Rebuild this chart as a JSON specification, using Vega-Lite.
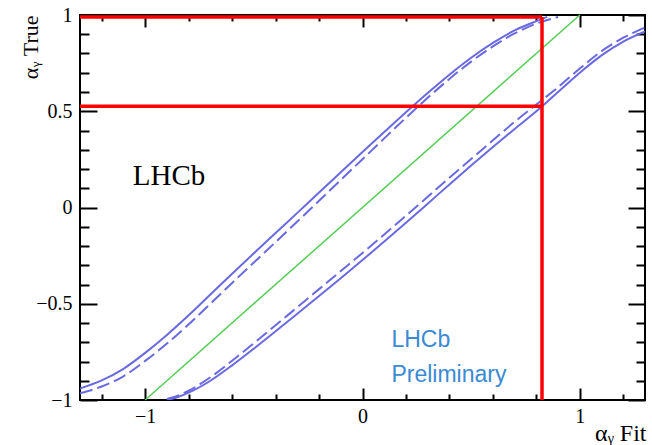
{
  "$schema": "https://vega.github.io/schema/vega-lite/v6.json",
  "width": 565,
  "height": 385,
  "autosize": {"type": "none"},
  "padding": {"left": 80, "top": 15, "right": 7, "bottom": 45},
  "background": "white",
  "config": {
    "view": {"stroke": "black", "strokeWidth": 2},
    "axis": {"grid": false, "domain": false, "tickColor": "black", "tickWidth": 2, "labelFont": "Liberation Serif", "labelFontSize": 20, "labelColor": "black", "titleFont": "Liberation Serif", "titleFontSize": 22, "titleFontWeight": "normal", "titleColor": "black"}
  },
  "datasets": {
    "diag": [{"x": -1, "y": -1}, {"x": 1, "y": 1}],
    "red": [
      {"x": -1.3, "x2": 0.826, "y": 0.99, "y2": 0.99},
      {"x": -1.3, "x2": 0.826, "y": 0.526, "y2": 0.526},
      {"x": 0.826, "x2": 0.826, "y": -1, "y2": 0.99}
    ],
    "us": [{"x": -1.3, "y": -0.94}, {"x": -1.2, "y": -0.898}, {"x": -1.1, "y": -0.838}, {"x": -1.0, "y": -0.755}, {"x": -0.9, "y": -0.662}, {"x": -0.8, "y": -0.56}, {"x": -0.7, "y": -0.452}, {"x": -0.6, "y": -0.344}, {"x": -0.5, "y": -0.238}, {"x": -0.4, "y": -0.133}, {"x": -0.3, "y": -0.028}, {"x": -0.2, "y": 0.078}, {"x": -0.1, "y": 0.183}, {"x": 0.0, "y": 0.288}, {"x": 0.1, "y": 0.392}, {"x": 0.2, "y": 0.495}, {"x": 0.3, "y": 0.595}, {"x": 0.4, "y": 0.69}, {"x": 0.5, "y": 0.778}, {"x": 0.6, "y": 0.855}, {"x": 0.7, "y": 0.92}, {"x": 0.8, "y": 0.968}, {"x": 0.85, "y": 0.99}],
    "ud": [{"x": -1.3, "y": -0.965}, {"x": -1.2, "y": -0.93}, {"x": -1.1, "y": -0.877}, {"x": -1.0, "y": -0.797}, {"x": -0.9, "y": -0.707}, {"x": -0.8, "y": -0.607}, {"x": -0.7, "y": -0.5}, {"x": -0.6, "y": -0.392}, {"x": -0.5, "y": -0.286}, {"x": -0.4, "y": -0.18}, {"x": -0.3, "y": -0.073}, {"x": -0.2, "y": 0.035}, {"x": -0.1, "y": 0.143}, {"x": 0.0, "y": 0.251}, {"x": 0.1, "y": 0.359}, {"x": 0.2, "y": 0.466}, {"x": 0.3, "y": 0.57}, {"x": 0.4, "y": 0.668}, {"x": 0.5, "y": 0.758}, {"x": 0.6, "y": 0.837}, {"x": 0.7, "y": 0.904}, {"x": 0.8, "y": 0.955}, {"x": 0.9, "y": 0.99}],
    "ls": [{"x": -0.9, "y": -1.0}, {"x": -0.85, "y": -0.985}, {"x": -0.8, "y": -0.962}, {"x": -0.7, "y": -0.9}, {"x": -0.6, "y": -0.82}, {"x": -0.5, "y": -0.733}, {"x": -0.4, "y": -0.643}, {"x": -0.3, "y": -0.552}, {"x": -0.2, "y": -0.46}, {"x": -0.1, "y": -0.367}, {"x": 0.0, "y": -0.273}, {"x": 0.1, "y": -0.177}, {"x": 0.2, "y": -0.079}, {"x": 0.3, "y": 0.02}, {"x": 0.4, "y": 0.12}, {"x": 0.5, "y": 0.218}, {"x": 0.6, "y": 0.314}, {"x": 0.7, "y": 0.408}, {"x": 0.8, "y": 0.5}, {"x": 0.9, "y": 0.6}, {"x": 1.0, "y": 0.7}, {"x": 1.1, "y": 0.79}, {"x": 1.2, "y": 0.862}, {"x": 1.3, "y": 0.915}],
    "ld": [{"x": -0.9, "y": -0.995}, {"x": -0.85, "y": -0.978}, {"x": -0.8, "y": -0.952}, {"x": -0.7, "y": -0.882}, {"x": -0.6, "y": -0.796}, {"x": -0.5, "y": -0.705}, {"x": -0.4, "y": -0.612}, {"x": -0.3, "y": -0.518}, {"x": -0.2, "y": -0.424}, {"x": -0.1, "y": -0.33}, {"x": 0.0, "y": -0.236}, {"x": 0.1, "y": -0.14}, {"x": 0.2, "y": -0.043}, {"x": 0.3, "y": 0.056}, {"x": 0.4, "y": 0.155}, {"x": 0.5, "y": 0.252}, {"x": 0.6, "y": 0.349}, {"x": 0.7, "y": 0.445}, {"x": 0.8, "y": 0.535}, {"x": 0.9, "y": 0.625}, {"x": 1.0, "y": 0.722}, {"x": 1.1, "y": 0.812}, {"x": 1.2, "y": 0.882}, {"x": 1.3, "y": 0.935}],
    "txt1": [{"x": -1.057, "y": 0.118, "t": "LHCb"}],
    "txt2": [{"x": 0.133, "y": -0.723, "t": "LHCb"}, {"x": 0.133, "y": -0.905, "t": "Preliminary"}]
  },
  "resolve": {"axis": {"x": "independent", "y": "independent"}},
  "layer": [
    {
      "data": {"name": "diag"},
      "mark": {"type": "line", "color": "#55cc55", "strokeWidth": 1.5},
      "encoding": {
        "x": {"field": "x", "type": "quantitative", "scale": {"domain": [-1.3, 1.3], "nice": false, "zero": false},
              "axis": {"orient": "bottom", "values": [-1, 0, 1], "format": "~g", "ticks": false, "labelPadding": 6, "title": "αᵧ Fit", "titleFontSize": 24, "titleX": 566, "titleY": 40, "titleAlign": "right", "titleBaseline": "alphabetic", "titleAngle": 0}},
        "y": {"field": "y", "type": "quantitative", "scale": {"domain": [-1, 1], "nice": false, "zero": false},
              "axis": {"orient": "left", "values": [-1, -0.5, 0, 0.5, 1], "format": "~g", "ticks": false, "labelPadding": 8, "title": "αᵧ True", "titleX": -43, "titleY": 0, "titleAngle": -90, "titleAlign": "right", "titleBaseline": "alphabetic"}}
      }
    },
    {
      "data": {"name": "us"},
      "mark": {"type": "line", "color": "#6a6ae0", "strokeWidth": 2, "interpolate": "monotone", "clip": true},
      "encoding": {
        "x": {"field": "x", "type": "quantitative", "axis": {"orient": "bottom", "values": [-1, 0, 1], "labels": false, "tickSize": -12, "title": null}},
        "y": {"field": "y", "type": "quantitative", "axis": {"orient": "left", "values": [-1, -0.5, 0, 0.5, 1], "labels": false, "tickSize": -17, "title": null}}
      }
    },
    {
      "data": {"name": "ud"},
      "mark": {"type": "line", "color": "#6a6ae0", "strokeWidth": 2, "strokeDash": [13, 5], "interpolate": "monotone", "clip": true},
      "encoding": {
        "x": {"field": "x", "type": "quantitative", "axis": {"orient": "bottom", "values": [-1.2, -0.8, -0.6, -0.4, -0.2, 0.2, 0.4, 0.6, 0.8, 1.2], "labels": false, "tickSize": -6, "title": null}},
        "y": {"field": "y", "type": "quantitative", "axis": {"orient": "left", "values": [-0.9, -0.8, -0.7, -0.6, -0.4, -0.3, -0.2, -0.1, 0.1, 0.2, 0.3, 0.4, 0.6, 0.7, 0.8, 0.9], "labels": false, "tickSize": -9, "title": null}}
      }
    },
    {
      "data": {"name": "ls"},
      "mark": {"type": "line", "color": "#6a6ae0", "strokeWidth": 2, "interpolate": "monotone", "clip": true},
      "encoding": {
        "x": {"field": "x", "type": "quantitative", "axis": {"orient": "top", "values": [-1, 0, 1], "labels": false, "tickSize": -12, "title": null}},
        "y": {"field": "y", "type": "quantitative", "axis": {"orient": "right", "values": [-1, -0.5, 0, 0.5, 1], "labels": false, "tickSize": -17, "title": null}}
      }
    },
    {
      "data": {"name": "ld"},
      "mark": {"type": "line", "color": "#6a6ae0", "strokeWidth": 2, "strokeDash": [13, 5], "interpolate": "monotone", "clip": true},
      "encoding": {
        "x": {"field": "x", "type": "quantitative", "axis": {"orient": "top", "values": [-1.2, -0.8, -0.6, -0.4, -0.2, 0.2, 0.4, 0.6, 0.8, 1.2], "labels": false, "tickSize": -6, "title": null}},
        "y": {"field": "y", "type": "quantitative", "axis": {"orient": "right", "values": [-0.9, -0.8, -0.7, -0.6, -0.4, -0.3, -0.2, -0.1, 0.1, 0.2, 0.3, 0.4, 0.6, 0.7, 0.8, 0.9], "labels": false, "tickSize": -9, "title": null}}
      }
    },
    {
      "data": {"name": "red"},
      "mark": {"type": "rule", "color": "#ff0000", "strokeWidth": 3.5},
      "encoding": {
        "x": {"field": "x", "type": "quantitative", "axis": null},
        "x2": {"field": "x2"},
        "y": {"field": "y", "type": "quantitative", "axis": null},
        "y2": {"field": "y2"}
      }
    },
    {
      "data": {"name": "txt1"},
      "mark": {"type": "text", "font": "Liberation Serif", "fontSize": 29, "color": "black", "align": "left", "baseline": "alphabetic"},
      "encoding": {
        "x": {"field": "x", "type": "quantitative", "axis": null},
        "y": {"field": "y", "type": "quantitative", "axis": null},
        "text": {"field": "t"}
      }
    },
    {
      "data": {"name": "txt2"},
      "mark": {"type": "text", "font": "Liberation Sans", "fontSize": 23, "color": "#3a8ad4", "align": "left", "baseline": "alphabetic"},
      "encoding": {
        "x": {"field": "x", "type": "quantitative", "axis": null},
        "y": {"field": "y", "type": "quantitative", "axis": null},
        "text": {"field": "t"}
      }
    }
  ]
}
